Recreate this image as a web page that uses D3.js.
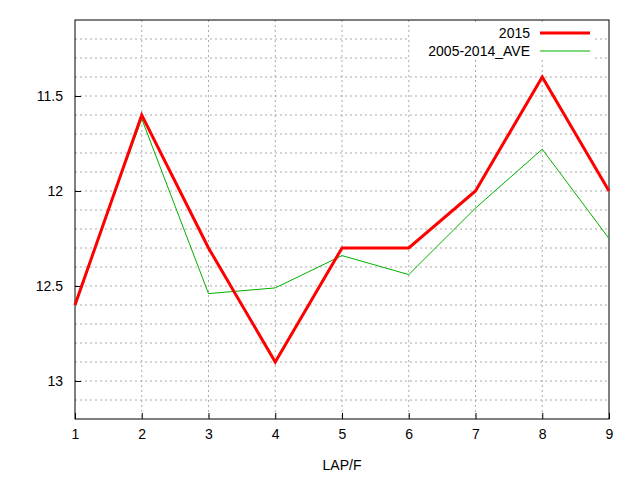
<!DOCTYPE html><html><head><script src="https://d3js.org/d3.v7.min.js"></script>
<style>body{margin:0;background:#fff}</style></head><body><script>
const laps=[1,2,3,4,5,6,7,8,9];
const s2015=[12.6,11.6,12.3,12.9,12.3,12.3,12.0,11.4,12.0];
const sAve=[12.59,11.62,12.54,12.51,12.34,12.44,12.09,11.78,12.25];
const yTicks=[11.5,12,12.5,13];
const W=640,H=480,L=75,R=609,T=20,B=419;
const svg=d3.select("body").append("svg").attr("width",W).attr("height",H).style("font-family","Liberation Sans, Arial").style("font-size","14px");
const x=d3.scaleLinear().domain([1,9]).range([L,R]);
const y=d3.scaleLinear().domain([11.1,13.2]).range([T,B]);
const minor=d3.range(11.2,13.2,0.1).map(v=>+v.toFixed(1));
svg.append("g").selectAll("line").data(minor).join("line").attr("x1",L).attr("x2",R).attr("y1",d=>y(d)).attr("y2",d=>y(d)).attr("stroke","#aaa").attr("stroke-dasharray","2,3");
svg.append("g").selectAll("line").data(laps.slice(1,-1)).join("line").attr("y1",T).attr("y2",B).attr("x1",d=>x(d)).attr("x2",d=>x(d)).attr("stroke","#aaa").attr("stroke-dasharray","2,3");
svg.append("rect").attr("x",L).attr("y",T).attr("width",R-L).attr("height",B-T).attr("fill","none").attr("stroke","#000");
const ax=svg.append("g").attr("transform",`translate(0,${B})`).call(d3.axisBottom(x).tickValues(laps).tickSize(-6).tickPadding(10).tickFormat(d3.format("d")));
const ay=svg.append("g").attr("transform",`translate(${L},0)`).call(d3.axisLeft(y).tickValues(yTicks).tickSize(-6).tickPadding(12).tickFormat(d=>d));
[ax,ay].forEach(a=>{a.select(".domain").remove();a.selectAll("text").style("font-size","14px").style("font-family","Liberation Sans, Arial");});
const line=d3.line().x((d,i)=>x(laps[i])).y(d=>y(d));
svg.append("path").attr("d",line(sAve)).attr("fill","none").attr("stroke","#00b000").attr("stroke-width",1);
svg.append("path").attr("d",line(s2015)).attr("fill","none").attr("stroke","#f00").attr("stroke-width",3);
svg.append("text").attr("x",342).attr("y",470).attr("text-anchor","middle").text("LAP/F");
svg.append("rect").attr("x",410).attr("y",24).attr("width",185).attr("height",36).attr("fill","#fff");
svg.append("text").attr("x",530).attr("y",38).attr("text-anchor","end").text("2015");
svg.append("line").attr("x1",540).attr("x2",590).attr("y1",33).attr("y2",33).attr("stroke","#f00").attr("stroke-width",3);
svg.append("text").attr("x",530).attr("y",56).attr("text-anchor","end").text("2005-2014_AVE");
svg.append("line").attr("x1",540).attr("x2",590).attr("y1",51).attr("y2",51).attr("stroke","#00b000");
</script></body></html>
